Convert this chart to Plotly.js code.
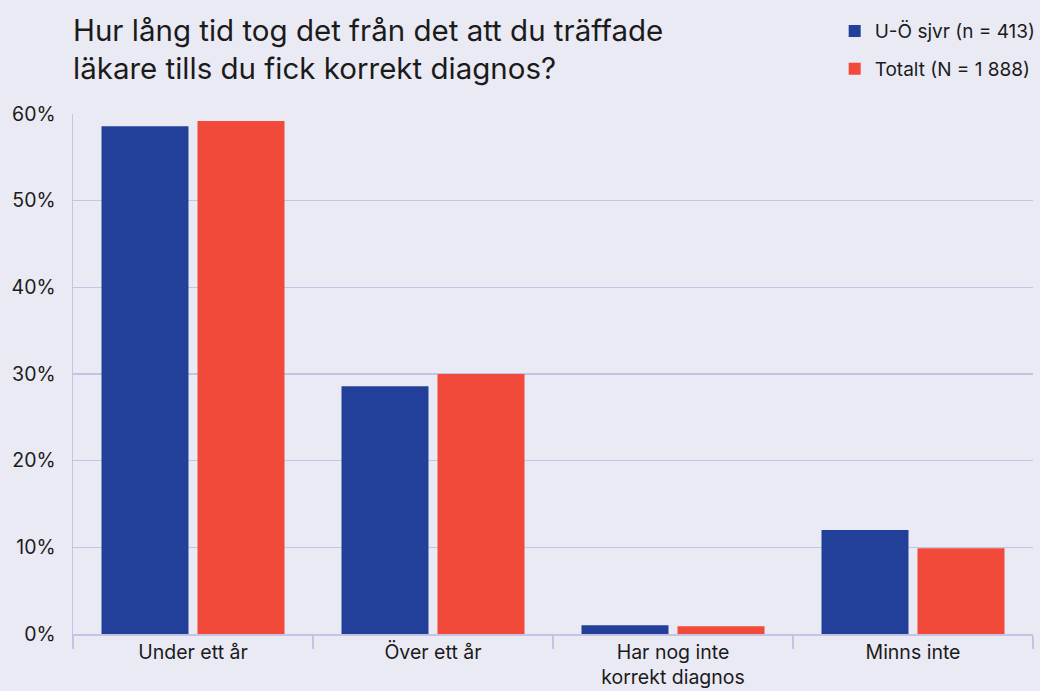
<!DOCTYPE html>
<html><head><meta charset="utf-8">
<script src="https://cdn.plot.ly/plotly-3.0.1.min.js"></script>
<style>html,body{margin:0;padding:0;background:#eaeaf4;}</style>
</head><body>
<div id="chart" style="width:1040px;height:691px;"></div>
<script>
const categories = ["Under ett år", "Över ett år", "Har nog inte<br>korrekt diagnos", "Minns inte"];
const seriesNames = ["U-Ö sjvr (n = 413)", "Totalt (N = 1 888)"];
const uoValues = [58.6, 28.6, 1.0, 12.0];
const totalValues = [59.2, 30.0, 0.9, 9.9];
const colors = ["#22409a", "#f24a3a"];
const yTicks = [0, 10, 20, 30, 40, 50, 60];

const font = "Inter, 'Noto Sans', sans-serif";
const traces = [
  {type: "bar", name: seriesNames[0], x: categories, y: uoValues, marker: {color: colors[0]}, hoverinfo: "none", legendgroup: "a"},
  {type: "bar", name: seriesNames[1], x: categories, y: totalValues, marker: {color: colors[1]}, hoverinfo: "none", legendgroup: "b"}
];
const layout = {
  width: 1040, height: 691,
  paper_bgcolor: "#eaeaf4", plot_bgcolor: "#eaeaf4",
  margin: {l: 73, r: 7, t: 114, b: 57, autoexpand: false},
  font: {family: font, color: "#1b1b1b", size: 19},
  title: {text: "Hur lång tid tog det från det att du träffade<br>läkare tills du fick korrekt diagnos?",
    x: 0, xref: "paper", xanchor: "left", y: 0.941, yref: "container", yanchor: "top",
    font: {family: font, size: 29.5, color: "#1b1b1b"}},
  barmode: "group", bargap: 0.2, bargroupgap: 0.094,
  showlegend: true,
  legend: {x: 1.008, xanchor: "right", y: 1.196, yanchor: "top", xref: "paper", yref: "paper",
    font: {family: font, size: 19, color: "#1b1b1b"}, bgcolor: "rgba(0,0,0,0)", tracegroupgap: 10},
  xaxis: {type: "category", showgrid: false, showline: true, linecolor: "#c3c3e3", linewidth: 1.5,
    ticks: "outside", tickson: "boundaries", ticklen: 13, tickcolor: "#c3c3e3", tickwidth: 1.5,
    tickfont: {family: font, size: 19.5, color: "#1b1b1b"}, zeroline: false},
  yaxis: {range: [0, 60], tickvals: yTicks, ticktext: yTicks.map(v => v + "%"),
    showgrid: true, gridcolor: "#c3c3e3", gridwidth: 1.5, showline: true, linecolor: "#c3c3e3", linewidth: 1.5,
    zeroline: false, ticks: "", ticklabelstandoff: 12,
    tickfont: {family: font, size: 19.5, color: "#1b1b1b"}}
};
Plotly.newPlot("chart", traces, layout, {displayModeBar: false, staticPlot: true});
</script>
</body></html>
